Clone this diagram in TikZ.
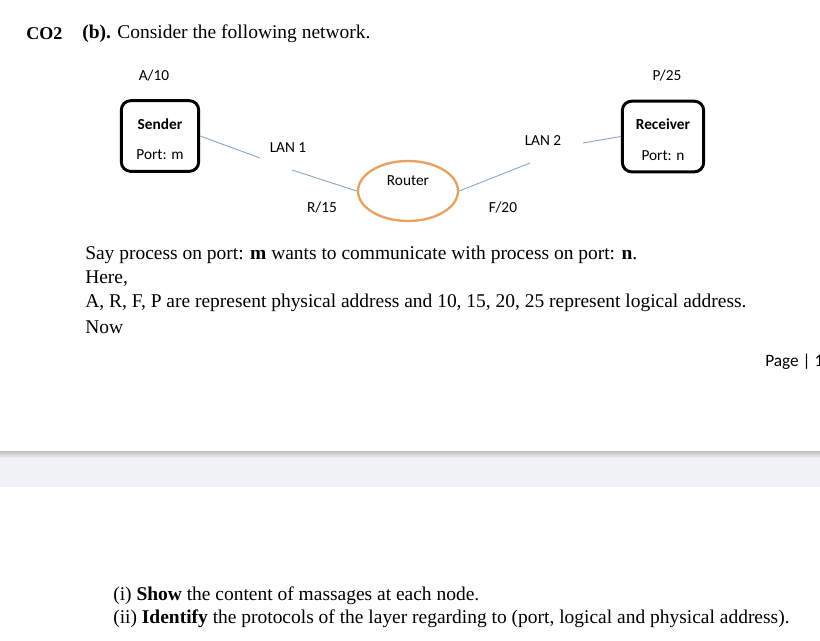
\documentclass[tikz,border=0pt]{standalone}
\usepackage{fontspec}
\setmainfont{Liberation Serif}
\newfontfamily\calibri{Carlito}
\usetikzlibrary{shapes.geometric}
\definecolor{linkblue}{RGB}{140,168,200}
\definecolor{routerorange}{RGB}{232,163,100}
\definecolor{bandgray}{RGB}{241,242,244}

\tikzset{
  hostbox/.style={draw, line width=2.2pt, rounded corners=7pt,
    minimum width=58pt, minimum height=53pt, align=center,
    font=\calibri\fontsize{11.5}{14}\selectfont},
  routernode/.style={draw=routerorange, line width=1.8pt, ellipse,
    minimum width=75pt, minimum height=45pt},
  link/.style={draw=linkblue, line width=0.7pt},
  lbl/.style={font=\calibri\fontsize{11.5}{13}\selectfont, inner sep=0pt},
  body/.style={anchor=west, inner sep=0pt, font=\fontsize{14.6}{17}\selectfont}
}

\begin{document}
\begin{tikzpicture}[x=0.75pt,y=-0.75pt]
\useasboundingbox (0,0) rectangle (820,640);

%---------------------------------------
% Heading
%---------------------------------------
\node[body, font=\bfseries\fontsize{13.5}{16}\selectfont] (co) at (26,34) {CO2};
\node[body] (head) at (82,34) {\textbf{(b).} Consider the following network.};

%---------------------------------------
% Network
%---------------------------------------
\node[hostbox] (sender) at (160,136) {\rule{0pt}{13pt}\textbf{Sender}\\[9pt]Port: m};
\node[hostbox, minimum width=61pt] (receiver) at (663,136.5) {\rule{0pt}{13pt}\textbf{Receiver}\\[9pt]Port: n};
\node[routernode] (router) at (408,191) {};
\node[lbl] (routerlbl) at (408,181) {Router};

\node[lbl] (a10) at (154,75) {A/10};
\node[lbl] (p25) at (667,75) {P/25};
\node[lbl] (lan1) at (288,148) {LAN 1};
\node[lbl] (lan2) at (543,141) {LAN 2};
\node[lbl] (r15) at (322,207) {R/15};
\node[lbl] (f20) at (503,207) {F/20};

% gaps in the links near the LAN labels
\coordinate (lan1a) at (260,158);
\coordinate (lan1b) at (292,170);
\coordinate (lan2a) at (530,163);
\coordinate (lan2b) at (583,143);

\draw[link] (sender.east) -- (lan1a);
\draw[link] (lan1b) -- (router.west);
\draw[link] (router.east) -- (lan2a);
\draw[link] (lan2b) -- (receiver.west);

%---------------------------------------
% Text
%---------------------------------------
\node[body] (say) at (85,254.5) {Say process on port: \textbf{m} wants to communicate with process on port: \textbf{n}.};
\node[body] (here) at (85,279) {Here,};
\node[body] (addr) at (85,303) {A, R, F, P are represent physical address and 10, 15, 20, 25 represent logical address.};
\node[body] (now) at (85,327) {Now};

\node[anchor=west, inner sep=0pt, font=\calibri\fontsize{13}{15}\selectfont] (page) at (765,362) {Page | 1};

% page break band
\fill[bandgray] (0,452) rectangle (820,487);
\shade[top color=black!25, bottom color=bandgray] (0,451) rectangle (820,458);

\node[body] (q1) at (113,596) {(i) \textbf{Show} the content of massages at each node.};
\node[body] (q2) at (113,619) {(ii) \textbf{Identify} the protocols of the layer regarding to (port, logical and physical address).};
\end{tikzpicture}
\end{document}
